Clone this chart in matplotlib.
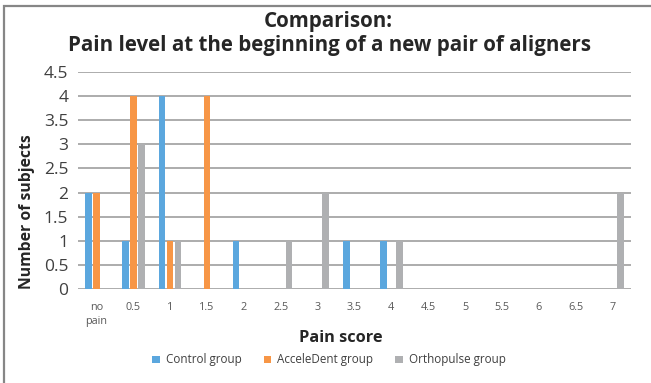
import numpy as np
import matplotlib.pyplot as plt
from matplotlib.patches import Rectangle

plt.rcParams['font.family'] = ['Open Sans', 'DejaVu Sans']

# pain scores on the x axis
scores = ["no\npain", "0.5", "1", "1.5", "2", "2.5", "3", "3.5", "4",
          "4.5", "5", "5.5", "6", "6.5", "7"]

# number of subjects per score
control = [2, 1, 4, 0, 1, 0, 0, 1, 1, 0, 0, 0, 0, 0, 0]
accele = [2, 4, 1, 4, 0, 0, 0, 0, 0, 0, 0, 0, 0, 0, 0]
ortho = [0, 3, 1, 0, 0, 1, 2, 0, 1, 0, 0, 0, 0, 0, 2]

groups = ["Control group", "AcceleDent group", "Orthopulse group"]
colors = ["#5BA7DE", "#F79646", "#AFB0B2"]
yticks = [0, 0.5, 1, 1.5, 2, 2.5, 3, 3.5, 4, 4.5]

W, H = 651, 383
fig = plt.figure(figsize=(W / 100, H / 100), dpi=100)

# chart area frame
fig.patches.append(Rectangle((4 / W, -0.1), 1.2, 1 - 6 / H + 0.1,
                             transform=fig.transFigure, fill=False,
                             edgecolor="#868686", linewidth=1.6))

ax = fig.add_axes([78 / W, 1 - 289 / H, 553 / W, 217 / H])

x = np.arange(len(scores))
step = 0.217
width = 0.176
for i, (vals, name, c) in enumerate(zip([control, accele, ortho], groups, colors)):
    ax.bar(x + (i - 1) * step, vals, width=width, color=c, label=name, zorder=3)

ax.set_xlim(-0.5, len(scores) - 0.5)
ax.set_ylim(0, 4.5)
ax.set_yticks(yticks)
ax.set_yticklabels([f"{v:g}" for v in yticks], fontsize=12.5, color="#404040")
ax.set_xticks(x)
ax.set_xticklabels(scores, fontsize=7.8, color="#595959", linespacing=1.4)
ax.tick_params(length=0)
ax.tick_params(axis="x", pad=9)
ax.tick_params(axis="y", pad=7)
ax.grid(axis="y", color="#A6A6A6", linewidth=1.3, zorder=0)
for s in ax.spines.values():
    s.set_visible(False)

ax.set_ylabel("Number of subjects", fontsize=11.3, fontweight="bold",
              color="#262626")
ax.yaxis.set_label_coords(-0.078, 0.355)
ax.set_xlabel("Pain score", fontsize=11.8, fontweight="bold", color="#262626")
ax.xaxis.set_label_coords(0.475, -0.19)

fig.text(328 / W, 1 - 21 / H, "Comparison:", ha="center", va="center",
         fontsize=14.8, fontweight="bold", color="#262626")
fig.text(329 / W, 1 - 45 / H, "Pain level at the beginning of a new pair of aligners",
         ha="center", va="center", fontsize=14.8, fontweight="bold", color="#262626")

fig.legend(loc="center", bbox_to_anchor=(329 / W, 1 - 360 / H), ncol=3,
           frameon=False, fontsize=8.4, handlelength=0.65, handleheight=0.65,
           handletextpad=0.5, columnspacing=1.9, labelcolor="#404040")

fig.savefig("out.png", dpi=100)
